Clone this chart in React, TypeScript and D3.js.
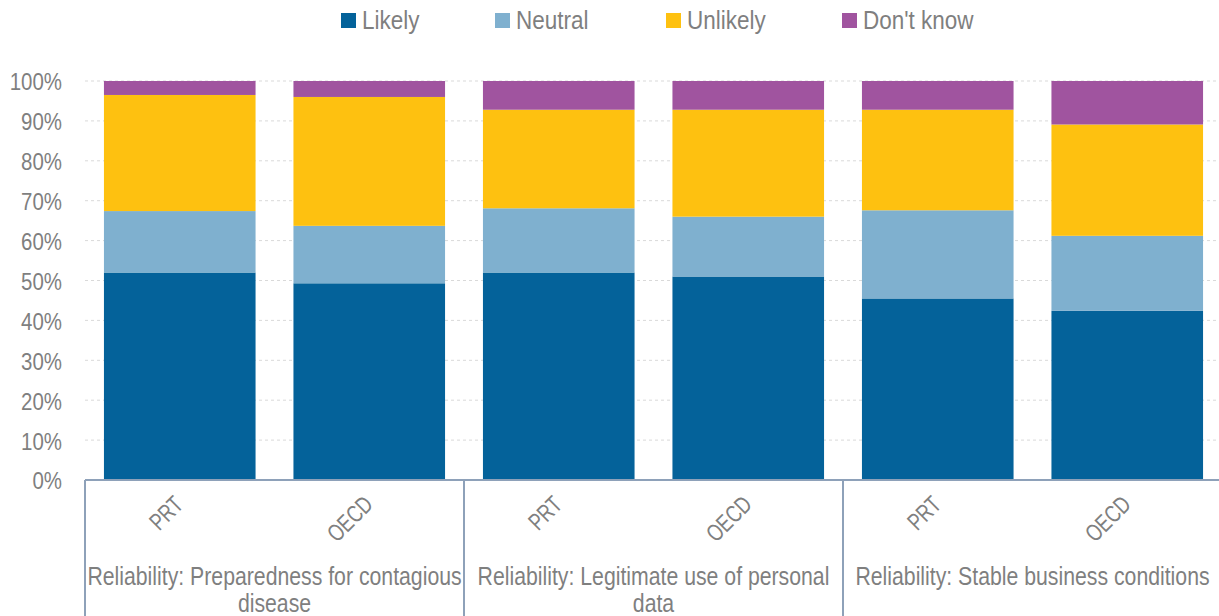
import { useEffect, useRef } from "react";
import * as d3 from "d3";

const groups = [
  ["Reliability: Preparedness for contagious", "disease"],
  ["Reliability: Legitimate use of personal", "data"],
  ["Reliability: Stable business conditions"],
];
const countries = ["PRT", "OECD"];
const seriesNames = ["Likely", "Neutral", "Unlikely", "Don't know"];
const colors = ["#04629a", "#7fb0cf", "#fec110", "#a0549f"];

// one value per bar, order: group1 PRT, group1 OECD, group2 PRT, ...
const likely = [52.0, 49.3, 52.0, 51.0, 45.5, 42.4];
const neutral = [15.4, 14.4, 16.1, 15.0, 22.1, 18.8];
const unlikely = [29.1, 32.3, 24.7, 26.8, 25.2, 27.9];
const dontKnow = [3.5, 4.0, 7.2, 7.2, 7.2, 10.9];

const yTicks = [0, 10, 20, 30, 40, 50, 60, 70, 80, 90, 100];

const W = 1219;
const H = 616;
const FONT = "'Liberation Sans', Arial, sans-serif";
const TEXT = "#7f7f7f";

const App = () => {
  const svgRef = useRef<SVGSVGElement>(null);

  useEffect(() => {
    const svg = d3.select(svgRef.current);
    svg.selectAll("*").remove();

    const margin = { top: 81, right: -3, bottom: 136, left: 85 };
    const plotW = W - margin.left - margin.right;
    const plotH = H - margin.top - margin.bottom;

    const bars = groups.flatMap((g, gi) =>
      countries.map((c, ci) => ({
        key: `${gi}-${c}`,
        country: c,
        vals: [likely, neutral, unlikely, dontKnow].map((s) => s[gi * 2 + ci]),
      }))
    );

    const x = d3
      .scaleBand()
      .domain(bars.map((b) => b.key))
      .range([margin.left, margin.left + plotW])
      .paddingInner(0.2)
      .paddingOuter(0.1);

    const y = d3
      .scaleLinear()
      .domain([0, 100])
      .range([margin.top + plotH, margin.top]);

    // gridlines
    svg
      .append("g")
      .selectAll("line")
      .data(yTicks.filter((t) => t > 0))
      .enter()
      .append("line")
      .attr("x1", margin.left)
      .attr("x2", W)
      .attr("y1", (d) => y(d))
      .attr("y2", (d) => y(d))
      .attr("stroke", "#d9d9d9")
      .attr("stroke-width", 1)
      .attr("stroke-dasharray", "3,3");

    // y tick labels (no narrow font available, so squeeze horizontally)
    svg
      .append("g")
      .selectAll("text")
      .data(yTicks)
      .enter()
      .append("text")
      .attr("transform", (d) => `translate(62, ${y(d) + 1}) scale(0.87, 1)`)
      .attr("dy", "0.36em")
      .attr("text-anchor", "end")
      .style("font-family", FONT)
      .style("font-size", "23.5px")
      .style("fill", TEXT)
      .text((d) => `${d}%`);

    // stacked bars
    const stacked = bars.map((b) => {
      let acc = 0;
      return b.vals.map((v, si) => {
        const y0 = acc;
        acc += v;
        return { key: b.key, si, y0, y1: acc };
      });
    });

    svg
      .append("g")
      .selectAll("rect")
      .data(stacked.flat())
      .enter()
      .append("rect")
      .attr("x", (d) => x(d.key)!)
      .attr("width", x.bandwidth())
      .attr("y", (d) => y(d.y1))
      .attr("height", (d) => y(d.y0) - y(d.y1))
      .attr("fill", (d) => colors[d.si]);

    // bottom axis: baseline and group separators
    const axisColor = "#8ea1b9";
    const axis = svg.append("g");
    axis
      .append("line")
      .attr("x1", margin.left)
      .attr("x2", W)
      .attr("y1", y(0))
      .attr("y2", y(0))
      .attr("stroke", axisColor)
      .attr("stroke-width", 2);

    const groupEdges = groups.map((_, gi) => margin.left + (gi * plotW) / groups.length);
    axis
      .selectAll("line.sep")
      .data(groupEdges)
      .enter()
      .append("line")
      .attr("class", "sep")
      .attr("x1", (d) => d)
      .attr("x2", (d) => d)
      .attr("y1", y(0))
      .attr("y2", H)
      .attr("stroke", axisColor)
      .attr("stroke-width", 2);

    // category labels
    svg
      .append("g")
      .selectAll("text")
      .data(bars)
      .enter()
      .append("text")
      .attr(
        "transform",
        (d) =>
          `translate(${x(d.key)! + x.bandwidth() / 2 + 5}, ${y(0) + 26}) rotate(-45) scale(0.76, 1)`
      )
      .attr("text-anchor", "end")
      .style("font-family", FONT)
      .style("font-size", "24px")
      .style("fill", TEXT)
      .text((d) => d.country);

    // group labels
    const gl = svg.append("g");
    groups.forEach((lines, gi) => {
      const cx = margin.left + ((gi + 0.5) * plotW) / groups.length;
      lines.forEach((ln, li) => {
        gl.append("text")
          .attr("transform", `translate(${cx}, ${585 + li * 27}) scale(0.85, 1)`)
          .attr("text-anchor", "middle")
          .style("font-family", FONT)
          .style("font-size", "25px")
          .style("fill", TEXT)
          .text(ln);
      });
    });

    // legend
    const legendX = [341, 495, 666, 842];
    const lg = svg.append("g");
    seriesNames.forEach((name, i) => {
      lg.append("rect")
        .attr("x", legendX[i])
        .attr("y", 13)
        .attr("width", 15)
        .attr("height", 15)
        .attr("fill", colors[i]);
      lg.append("text")
        .attr("transform", `translate(${legendX[i] + 21}, 29) scale(0.9, 1)`)
        .style("font-family", FONT)
        .style("font-size", "25px")
        .style("fill", TEXT)
        .text(name);
    });
  }, []);

  return (
    <svg
      ref={svgRef}
      width={W}
      height={H}
      viewBox={`0 0 ${W} ${H}`}
      style={{ position: "absolute", left: 0, top: 0, background: "#fff" }}
    ></svg>
  );
};

export default App;
